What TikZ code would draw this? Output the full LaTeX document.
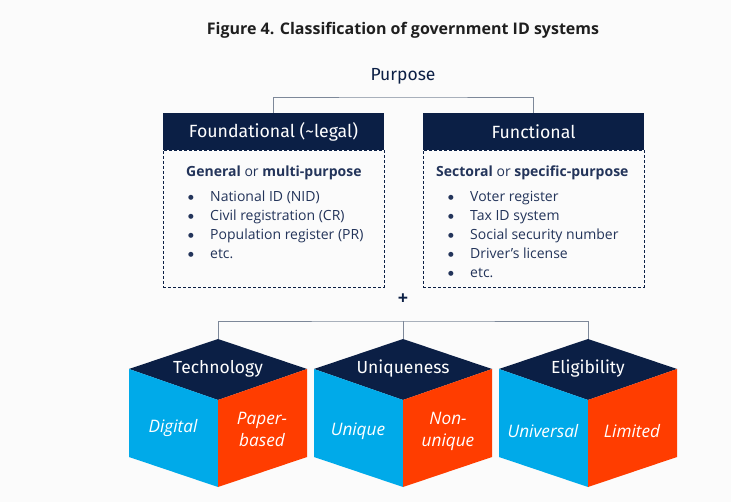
\documentclass[tikz,border=0pt]{standalone}
\usepackage{fontspec}
\setmainfont{Open Sans}
\newfontfamily\titlefont{Open Sans}
\newfontfamily\headfont{Fira Sans}
\newfontfamily\symfont{DejaVu Sans}
\definecolor{navy}{HTML}{0B1F45}
\definecolor{bodytext}{HTML}{23345A}
\definecolor{cyanblue}{HTML}{00AAE9}
\definecolor{redorange}{HTML}{FF3D00}
\definecolor{linkgray}{HTML}{7D8899}
\definecolor{bg}{HTML}{FBFBFB}
\newcommand{\itembullet}{\makebox[23pt][l]{\hspace{1pt}\raisebox{2.6pt}{\symfont\fontsize{6.5}{7}\selectfont ●}}}
\tikzset{
  header/.style={rectangle, fill=navy, text=white, minimum width=221pt, minimum height=37pt,
    inner sep=0pt, font=\headfont\fontsize{17.7}{20}\selectfont},
  listbox/.style={rectangle, draw=navy, line width=0.9pt, dash pattern=on 3pt off 2pt,
    minimum width=221pt, minimum height=137pt, inner sep=0pt},
  subhead/.style={anchor=base west, inner sep=0pt, text=bodytext, font=\fontsize{14}{17}\selectfont},
  item/.style={anchor=base west, inner sep=0pt, text=bodytext, font=\fontsize{14}{17}\selectfont},
  link/.style={draw=linkgray, line width=0.8pt},
  cubetop/.style={fill=navy},
  cubeleft/.style={fill=cyanblue},
  cuberight/.style={fill=redorange},
  cubelabel/.style={text=white, inner sep=0pt, font=\headfont\fontsize{17.5}{20}\selectfont},
  facelabel/.style={text=white, inner sep=0pt, align=center, font=\fontsize{17.2}{22}\selectfont\itshape},
}
\begin{document}
\begin{tikzpicture}[x=1pt,y=-1pt]
\fill[bg] (0,0) rectangle (731,502);
\useasboundingbox (0,0) rectangle (731,502);

% title
\node[text=black!88, font=\titlefont\bfseries\fontsize{16}{18}\selectfont] (title) at (403,30)
  {Figure 4. Classification of government ID systems};

% purpose level
\node[text=navy, font=\headfont\fontsize{17.5}{20}\selectfont, inner sep=0pt] (purpose) at (403,76) {Purpose};
\node[header] (fh) at (273.5,131.5) {Foundational (\textasciitilde legal)};
\node[header] (nh) at (533.5,131.5) {Functional};
\coordinate (pj) at (403,97);
\draw[link] (fh.north) |- (pj) -| (nh.north);

\node[listbox] (fb) at (273.5,218.5) {};
\node[listbox] (nb) at (533.5,218.5) {};

\node[subhead] (fs) at (186,177) {\textbf{General} or \textbf{multi-purpose}};
\node[subhead] (ns) at (436,177) {\textbf{Sectoral} or \textbf{specific-purpose}};

\foreach \t [count=\i] in {National ID (NID), Civil registration (CR), Population register (PR), etc.}{
  \node[item] (fb\i) at (187,183+19*\i) {\itembullet\t};
}
\foreach \t [count=\i] in {Voter register, Tax ID system, Social security number, Driver's license, etc.}{
  \node[item] (nb\i) at (447,183+19*\i) {\itembullet\t};
}

% plus sign
\node[text=navy, font=\bfseries\fontsize{18}{18}\selectfont, inner sep=0pt] (plus) at (403,299) {+};

% cubes
\foreach \cx/\name in {218/tc, 403/uc, 588/ec}{
  \fill[cubetop] (\cx,339) -- (\cx+89,369) -- (\cx,400) -- (\cx-89,369) -- cycle;
  \fill[cubeleft] (\cx-89,369) -- (\cx,400) -- (\cx,487) -- (\cx-89,457) -- cycle;
  \fill[cuberight] (\cx+89,369) -- (\cx,400) -- (\cx,487) -- (\cx+89,457) -- cycle;
  \coordinate (\name) at (\cx,339);
}
\coordinate (cj) at (403,321);
\draw[link] (tc) |- (cj) -| (ec);
\draw[link] (cj) -- (uc);

\node[cubelabel] (tl) at (218,369) {Technology};
\node[cubelabel] (ul) at (403,369) {Uniqueness};
\node[cubelabel] (el) at (588,369) {Eligibility};

\node[facelabel] (t1) at (173,428) {Digital};
\node[facelabel] (t2) at (262,429) {Paper-\\based};
\node[facelabel] (u1) at (358,431) {Unique};
\node[facelabel] (u2) at (448,431) {Non-\\unique};
\node[facelabel] (e1) at (543,431) {Universal};
\node[facelabel] (e2) at (632,431) {Limited};
\end{tikzpicture}
\end{document}
